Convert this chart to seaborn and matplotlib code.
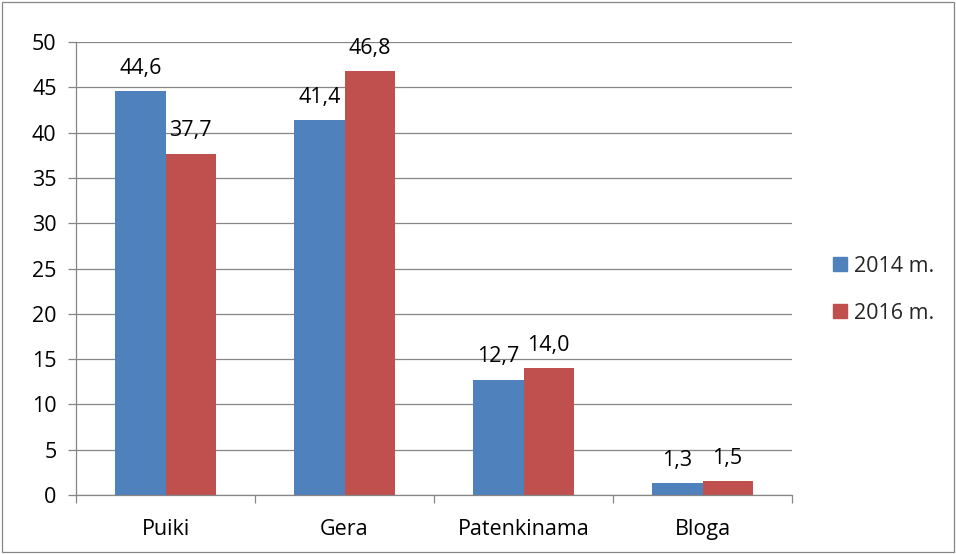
import pandas as pd
import matplotlib.pyplot as plt
import matplotlib.patches as mpatches
from matplotlib.ticker import FixedLocator
import seaborn as sns

categories = ['Puiki', 'Gera', 'Patenkinama', 'Bloga']
series = ['2014 m.', '2016 m.']
values_2014 = [44.6, 41.4, 12.7, 1.3]
values_2016 = [37.7, 46.8, 14.0, 1.5]
colors = ['#4F81BD', '#C0504D']

sns.set_theme(style="white")
plt.rcParams['font.family'] = ['Open Sans', 'DejaVu Sans']

df = pd.DataFrame({
    'Kategorija': categories * 2,
    'Metai': [series[0]] * 4 + [series[1]] * 4,
    'Reikšmė': values_2014 + values_2016,
})

fig = plt.figure(figsize=(9.56, 5.54), dpi=100)
ax = fig.add_axes([0.0795, 0.1065, 0.749, 0.8175])

sns.barplot(data=df, x='Kategorija', y='Reikšmė', hue='Metai', palette=colors,
            width=0.56, gap=0, saturation=1, linewidth=0, ax=ax, legend=False)

for cont in ax.containers:
    labels = [f"{v:.1f}".replace('.', ',') for v in cont.datavalues]
    ax.bar_label(cont, labels=labels, padding=9, fontsize=15.5, color='black')

ax.set_ylim(0, 50)
ax.set_xlim(-0.5, 3.5)
ax.set_yticks(range(0, 51, 5))
ax.yaxis.grid(True, color='#868686', linewidth=0.9)
ax.set_axisbelow(True)
ax.set_xlabel('')
ax.set_ylabel('')

for side in ['top', 'right']:
    ax.spines[side].set_visible(False)
for side in ['left', 'bottom']:
    ax.spines[side].set_color('#868686')
    ax.spines[side].set_linewidth(0.9)

ax.tick_params(axis='y', left=True, length=6, width=0.9, color='#868686',
               labelsize=15.5, pad=8, labelcolor='black')
ax.tick_params(axis='x', which='major', bottom=False, labelsize=15.5, pad=11,
               labelcolor='black')
ax.xaxis.set_minor_locator(FixedLocator([-0.5, 0.5, 1.5, 2.5, 3.5]))
ax.tick_params(axis='x', which='minor', bottom=True, length=6, width=0.9,
               color='#868686')

handles = [mpatches.Patch(color=c, label=s) for c, s in zip(colors, series)]
fig.legend(handles=handles, loc='center left', bbox_to_anchor=(0.851, 0.477),
           frameon=False, fontsize=15.5, handlelength=0.65, handleheight=0.65,
           handletextpad=0.35, labelspacing=1.2)

fig.patches.append(mpatches.Rectangle((0.002, 0.003), 0.996, 0.994,
                                      transform=fig.transFigure, fill=False,
                                      edgecolor='#868686', linewidth=0.9))

fig.savefig('out.png', dpi=100)
